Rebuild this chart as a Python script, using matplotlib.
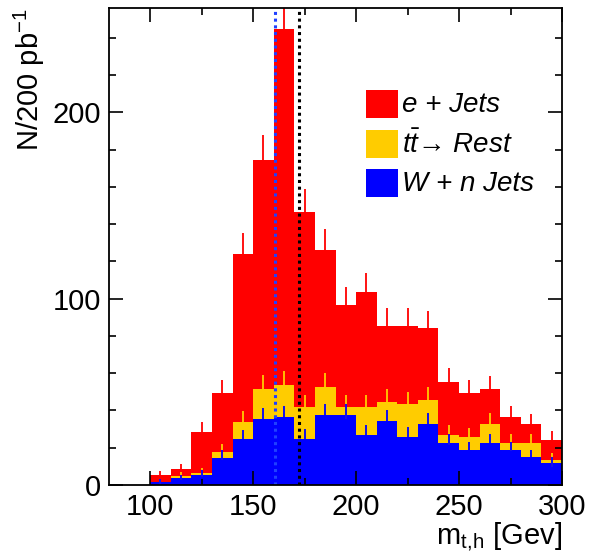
import numpy as np
import matplotlib
matplotlib.use('Agg')
import matplotlib.pyplot as plt
from matplotlib.patches import Rectangle
from matplotlib.ticker import MultipleLocator

plt.rcParams['font.family'] = ['Liberation Sans', 'DejaVu Sans']
plt.rcParams['mathtext.fontset'] = 'custom'
plt.rcParams['mathtext.rm'] = 'Liberation Sans'
plt.rcParams['mathtext.it'] = 'Liberation Sans:italic'
plt.rcParams['mathtext.default'] = 'regular'

# bin edges in GeV (10 GeV bins)
edges = np.arange(80, 301, 10)

# per-bin contributions (events / 200 pb^-1), stacked W -> ttbar -> e+jets
w_jets = [0, 0, 1.8, 3.6, 5.5, 14.7, 24.7, 35.5, 36.6, 24.9, 37.6,
          37.6, 26.9, 34.4, 26.0, 32.8, 22.8, 18.8, 22.8, 18.8, 14.9, 11.6]
tt_rest = [0, 0, 0, 1.2, 1.1, 3.0, 9.0, 16.1, 17.2, 16.7, 15.1,
           4.0, 14.7, 10.2, 17.5, 12.9, 4.1, 6.8, 10.0, 4.0, 7.9, 1.8]
e_jets = [0, 0, 3.6, 3.6, 21.7, 31.6, 90.3, 122.8, 190.8, 105.0, 73.6,
          54.8, 62.0, 40.9, 42.0, 38.7, 28.5, 23.7, 18.6, 13.6, 9.8, 10.8]

labels = ['e + Jets', r'$\mathit{t\bar{t}}$' + '\u2192 Rest', 'W + n Jets']
colors = ['#ff0000', '#ffcc00', '#0000ff']

# reference mass lines
m_reco = 160.6
m_top = 172.5

blue_cum = np.array(w_jets)
yellow_cum = blue_cum + np.array(tt_rest)
red_cum = yellow_cum + np.array(e_jets)
centers = 0.5 * (edges[:-1] + edges[1:])

fig = plt.figure(figsize=(5.91, 5.52), dpi=100)
ax = fig.add_axes([0.1844, 0.1214, 0.7666, 0.8641])

for cum, col in zip([red_cum, yellow_cum, blue_cum], colors):
    ax.stairs(cum, edges, fill=True, color=col, lw=0)
    m = cum > 0
    ax.errorbar(centers[m], cum[m], yerr=np.sqrt(cum[m]), fmt='none',
                ecolor=col, elinewidth=1.3, capsize=0)

ax.axvline(m_reco, color='#2040ff', ls=(0, (1, 1.2)), lw=2.2)
ax.axvline(m_top, color='black', ls=(0, (1, 1.2)), lw=2.2)

ax.set_xlim(80, 300)
ax.set_ylim(0, 256)
ax.xaxis.set_major_locator(MultipleLocator(50))
ax.xaxis.set_minor_locator(MultipleLocator(25))
ax.yaxis.set_major_locator(MultipleLocator(100))
ax.yaxis.set_minor_locator(MultipleLocator(20))
ax.tick_params(which='both', direction='in', top=True, right=True,
               labelsize=21, width=1.2)
ax.tick_params(which='major', length=10, pad=6)
ax.tick_params(which='minor', length=5)
for s in ax.spines.values():
    s.set_linewidth(1.3)

ax.set_xlabel(r'm$_{t,\!h}$ [Gev]', fontsize=21, loc='right', labelpad=-1)
ax.set_ylabel('N/200 pb$^{-1}$', fontsize=21, loc='top', labelpad=4)

# legend drawn by hand
for i, (lab, col) in enumerate(zip(labels, colors)):
    y0 = 0.769 - i * 0.083
    ax.add_patch(Rectangle((0.567, y0), 0.071, 0.059, transform=ax.transAxes,
                           color=col, lw=0, clip_on=False))
    ax.text(0.647, y0 + 0.027, lab, transform=ax.transAxes, fontsize=20,
            style='italic', va='center', ha='left')

fig.savefig('out.png', dpi=100)
